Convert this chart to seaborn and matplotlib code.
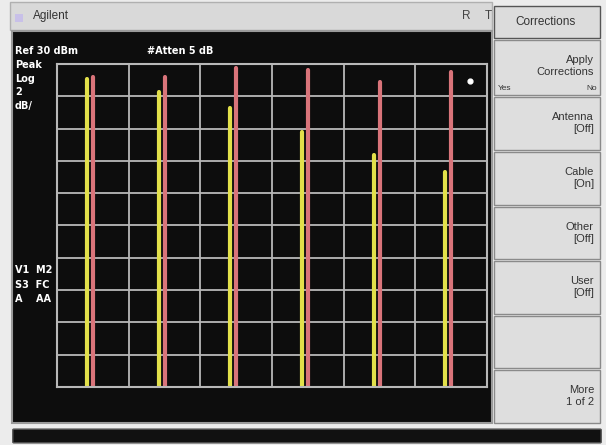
import matplotlib
matplotlib.use("Agg")
import matplotlib.pyplot as plt
import seaborn as sns
import pandas as pd
from matplotlib.patches import Rectangle, FancyBboxPatch

# spectrum data (MHz / dBm)
red_freq = [50, 150, 250, 350, 450, 550]
red_level = [29.2, 29.2, 29.75, 29.63, 28.9, 29.5]
yellow_freq = [42, 142, 242, 342, 442, 542]
yellow_level = [29.1, 28.25, 27.25, 25.8, 24.35, 23.3]
marker_freq = [576]
marker_level = [28.95]
floor_level = 0

ref_level = 30
db_per_div = 2
span = 600

softkeys = ["Apply\nCorrections", "Antenna\n[Off]", "Cable\n[On]", "Other\n[Off]", "User\n[Off]", "", "More\n1 of 2"]
left_labels = ["Peak", "Log", "2", "dB/"]
status_labels = ["V1  M2", "S3  FC", "A    AA"]

W, H = 606, 445


def fx(px):
    return px / W


def fy(py):
    return 1 - py / H


rows = []
for name, freqs, levels in [("yellow", yellow_freq, yellow_level), ("red", red_freq, red_level)]:
    for i, (f, lv) in enumerate(zip(freqs, levels)):
        rows.append({"trace": name, "peak": f"{name}{i}", "freq": f, "level": floor_level})
        rows.append({"trace": name, "peak": f"{name}{i}", "freq": f, "level": lv})
df = pd.DataFrame(rows)

sns.set_style("dark")
plt.rcParams["font.family"] = ["Liberation Sans", "DejaVu Sans"]

fig = plt.figure(figsize=(W / 100, H / 100), dpi=100)
fig.patch.set_facecolor("#ececec")

# title bar
fig.patches.append(Rectangle((fx(10), fy(30)), fx(482), 28 / H, transform=fig.transFigure,
                             facecolor="#d9d9d9", edgecolor="#b0b0b0", lw=1, zorder=-2))
fig.patches.append(Rectangle((fx(15), fy(22)), fx(8), 8 / H, transform=fig.transFigure,
                             facecolor="#c8c0e8", edgecolor="none", zorder=-1))
fig.text(fx(33), fy(16), "Agilent", fontsize=8.5, color="#333333", va="center")
fig.text(fx(462), fy(16), "R", fontsize=8.5, color="#444444", va="center")
fig.text(fx(485), fy(16), "T", fontsize=8.5, color="#444444", va="center")

# black screen
fig.patches.append(Rectangle((fx(12), fy(423)), fx(480), 392 / H, transform=fig.transFigure,
                             facecolor="#0d0d0d", edgecolor="#9a9a9a", lw=1.5, zorder=-2))
# bottom bar
fig.patches.append(FancyBboxPatch((fx(14), fy(442)), fx(586), 12 / H, transform=fig.transFigure,
                                  boxstyle="round,pad=0.002", facecolor="#111111", edgecolor="#555555",
                                  lw=1, zorder=-2))

# softkey panel
fig.patches.append(Rectangle((fx(494), fy(38)), fx(106), 32 / H, transform=fig.transFigure,
                             facecolor="#dcdcdc", edgecolor="#555555", lw=1, zorder=-2))
fig.text(fx(546), fy(22), "Corrections", fontsize=8.5, color="#333333", ha="center", va="center")
key_edges = [40, 97, 152, 207, 261, 316, 370, 425]
for i, label in enumerate(softkeys):
    top, bottom = key_edges[i], key_edges[i + 1]
    fig.patches.append(Rectangle((fx(494), fy(bottom - 2)), fx(106), (bottom - top - 2) / H,
                                 transform=fig.transFigure, facecolor="#dedede", edgecolor="#8a8a8a",
                                 lw=1, zorder=-2))
    if label:
        fig.text(fx(594), fy(top + 26), label, fontsize=8, color="#333333", ha="right", va="center",
                 linespacing=1.3)
fig.text(fx(498), fy(89), "Yes", fontsize=6, color="#333333", va="center")
fig.text(fx(597), fy(89), "No", fontsize=6, color="#333333", va="center", ha="right")

# screen annotations
txt = dict(fontsize=7, color="white", fontweight="bold", va="center", family="DejaVu Sans")
fig.text(fx(15), fy(51), f"Ref {ref_level} dBm", **txt)
fig.text(fx(147), fy(51), "#Atten 5 dB", **txt)
for i, lab in enumerate(left_labels):
    fig.text(fx(15), fy(65 + i * 13.5), lab, **txt)
for i, lab in enumerate(status_labels):
    fig.text(fx(15), fy(270 + i * 14.5), lab, **txt)

# graticule axes
ax = fig.add_axes([fx(57), fy(387), fx(430), 323 / H])
ax.set_facecolor("#0d0d0d")
sns.lineplot(data=df, x="freq", y="level", hue="trace", units="peak", estimator=None, sort=False,
             palette={"yellow": "#e2e04a", "red": "#d9747a"}, lw=3, legend=False, ax=ax)
ax.scatter(marker_freq, marker_level, s=12, color="white", zorder=5)

ax.set_xlim(0, span)
ax.set_ylim(ref_level - 10 * db_per_div, ref_level)
ax.set_xticks(range(0, span + 1, 100))
ax.set_yticks(range(ref_level - 10 * db_per_div, ref_level + 1, db_per_div))
ax.grid(True, color="#b8b8b8", lw=1.3)
ax.set_axisbelow(True)
ax.tick_params(left=False, bottom=False, labelleft=False, labelbottom=False)
ax.set_xlabel("")
ax.set_ylabel("")
for s in ax.spines.values():
    s.set_visible(True)
    s.set_color("#b8b8b8")
    s.set_linewidth(1.5)

fig.savefig("out.png", dpi=100, facecolor=fig.get_facecolor())
